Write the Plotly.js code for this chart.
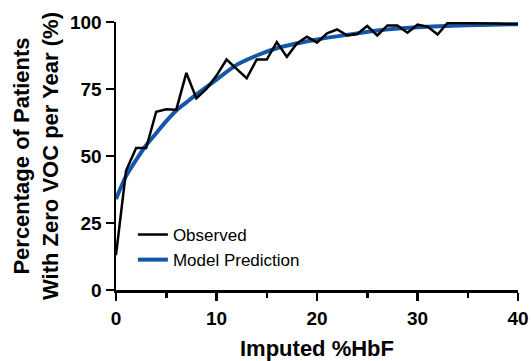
<!DOCTYPE html>
<html>
<head>
<meta charset="utf-8">
<script src="https://cdn.plot.ly/plotly-3.0.1.min.js"></script>
<style>
  html, body { margin: 0; padding: 0; background: #ffffff; }
  #chart { width: 531px; height: 361px; }
</style>
</head>
<body>
<div id="chart"></div>
<script>
// Observed percentage of patients with zero VOC per year, by imputed %HbF
const observedX = [0,1,2,3,4,5,6,7,8,9,10,11,12,13,14,15,16,17,18,19,20,21,22,23,24,25,26,27,28,29,30,31,32,33,34,35,36,37,38,39,40];
const observedY = [13,44.5,53,53,66.5,67.4,67.3,81,71.5,75,80,86,82.5,79,86,86,92.5,87,92,94.5,92.3,95.8,97.2,95,95.5,98.5,95,98.7,98.7,96,99,98.3,95.3,99.7,99.6,99.6,99.5,99.5,99.4,99.3,99.3];

// Model prediction curve
const modelX = [0,1,2,3,4,5,6,7,8,10,12,14,16,18,20,23,26,30,35,40];
const modelY = [34,42.5,48.5,54,58.5,63,67,70,73,78.5,84,87.5,90.2,92,93.5,95.2,96.8,98,98.8,99.2];

const xTicks = [0,10,20,30,40];
const yTicks = [0,25,50,75,100];

const seriesNames = ['Observed', 'Model Prediction'];

const traces = [
  {
    x: modelX, y: modelY, type: 'scatter', mode: 'lines',
    name: seriesNames[1], legendrank: 2,
    line: {color: '#1457a8', width: 4, shape: 'spline', smoothing: 0.8}
  },
  {
    x: observedX, y: observedY, type: 'scatter', mode: 'lines',
    name: seriesNames[0], legendrank: 1,
    line: {color: '#000000', width: 2.5}
  }
];

const layout = {
  width: 531, height: 361,
  margin: {l: 116, r: 13, t: 22, b: 71},
  paper_bgcolor: '#ffffff', plot_bgcolor: '#ffffff',
  font: {family: 'Liberation Sans, Arial, sans-serif', color: '#000000'},
  showlegend: true,
  legend: {
    x: 0.042, y: 0.2725, xanchor: 'left', yanchor: 'top',
    bgcolor: 'rgba(0,0,0,0)',
    font: {size: 17, family: 'Liberation Sans, Arial, sans-serif', color: '#000'},
    tracegroupgap: 0
  },
  xaxis: {
    range: [0, 40], tickvals: xTicks, ticktext: xTicks.map(String),
    showline: true, linecolor: '#000', linewidth: 2.5,
    ticks: 'outside', ticklen: 8, tickwidth: 2.5, tickcolor: '#000',
    minor: {dtick: 5, ticks: 'outside', ticklen: 5, tickwidth: 2.5, tickcolor: '#000', showgrid: false},
    showgrid: false, zeroline: false,
    ticklabelstandoff: 2,
    tickfont: {size: 19, family: 'Liberation Sans, Arial, sans-serif', weight: 'bold'},
    title: {text: '<b>Imputed %HbF</b>', font: {size: 22}, standoff: 14}
  },
  yaxis: {
    range: [0, 100], tickvals: yTicks, ticktext: yTicks.map(String),
    showline: true, linecolor: '#000', linewidth: 2.5,
    ticks: 'outside', ticklen: 8, tickwidth: 2.5, tickcolor: '#000',
    showgrid: false, zeroline: false,
    tickfont: {size: 19, family: 'Liberation Sans, Arial, sans-serif', weight: 'bold'},
    title: {text: '<b>Percentage of Patients<br>With Zero VOC per Year (%)</b>', font: {size: 22}, standoff: 6}
  }
};

Plotly.newPlot('chart', traces, layout, {staticPlot: true, displayModeBar: false});
</script>
</body>
</html>
